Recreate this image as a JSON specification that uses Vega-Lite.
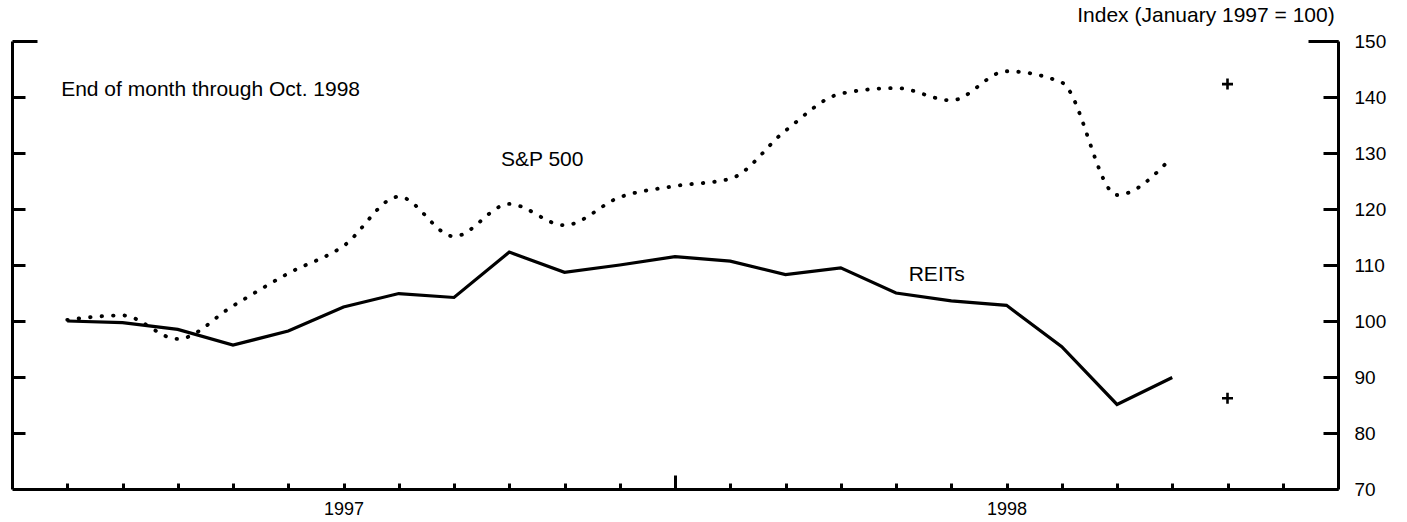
{
  "$schema": "https://vega.github.io/schema/vega-lite/v6.json",
  "width": 1326,
  "height": 448,
  "autosize": {"type": "none"},
  "padding": {"left": 12, "top": 41, "right": 69, "bottom": 33},
  "background": "white",
  "config": {
    "view": {"stroke": null},
    "font": "Liberation Sans",
    "axis": {"domainColor": "black", "domainWidth": 3, "tickColor": "black", "tickWidth": 3, "labelColor": "black", "labelFont": "Liberation Sans", "grid": false, "labelFlush": false, "labelOverlap": false}
  },
  "datasets": {
    "sp": [
      {"month": 1, "value": 100.2}, {"month": 2, "value": 101.0}, {"month": 3, "value": 96.8},
      {"month": 4, "value": 102.7}, {"month": 5, "value": 108.5}, {"month": 6, "value": 113.4},
      {"month": 7, "value": 122.2}, {"month": 8, "value": 115.1}, {"month": 9, "value": 120.9},
      {"month": 10, "value": 117.1}, {"month": 11, "value": 122.1}, {"month": 12, "value": 124.1},
      {"month": 13, "value": 125.4}, {"month": 14, "value": 134.0}, {"month": 15, "value": 140.6},
      {"month": 16, "value": 141.6}, {"month": 17, "value": 139.4}, {"month": 18, "value": 144.6},
      {"month": 19, "value": 142.6}, {"month": 20, "value": 122.5}, {"month": 21, "value": 129.3}
    ],
    "reits": [
      {"month": 1, "value": 100.0}, {"month": 2, "value": 99.7}, {"month": 3, "value": 98.5},
      {"month": 4, "value": 95.7}, {"month": 5, "value": 98.2}, {"month": 6, "value": 102.5},
      {"month": 7, "value": 104.9}, {"month": 8, "value": 104.2}, {"month": 9, "value": 112.3},
      {"month": 10, "value": 108.7}, {"month": 11, "value": 110.0}, {"month": 12, "value": 111.5},
      {"month": 13, "value": 110.7}, {"month": 14, "value": 108.3}, {"month": 15, "value": 109.5},
      {"month": 16, "value": 105.0}, {"month": 17, "value": 103.6}, {"month": 18, "value": 102.8},
      {"month": 19, "value": 95.4}, {"month": 20, "value": 85.1}, {"month": 21, "value": 89.9}
    ],
    "latest": [
      {"series": "S&P 500", "month": 22, "value": 142.3},
      {"series": "REITs", "month": 22, "value": 86.2}
    ],
    "notes": [
      {"label": "End of month through Oct. 1998", "month": 0.89, "value": 141.3},
      {"label": "S&P 500", "month": 8.85, "value": 128.7},
      {"label": "REITs", "month": 16.23, "value": 108.3}
    ],
    "unit": [
      {"label": "Index (January 1997 = 100)", "month": 23.94, "value": 154.5}
    ]
  },
  "layer": [
    {
      "data": {"name": "sp"},
      "mark": {"type": "line", "interpolate": "monotone", "color": "black", "strokeWidth": 3.8, "strokeDash": [0.5, 11], "strokeCap": "round"},
      "encoding": {
        "x": {"field": "month", "type": "quantitative", "scale": {"domain": [0, 24], "nice": false, "zero": false},
              "axis": {"orient": "bottom", "values": [1,2,3,4,5,6,7,8,9,10,11,12,13,14,15,16,17,18,19,20,21,22,23], "tickSize": -6,
                       "labelExpr": "datum.value == 6 ? '1997' : datum.value == 18 ? '1998' : ''", "labelPadding": 17, "labelFontSize": 18, "title": null}},
        "y": {"field": "value", "type": "quantitative", "scale": {"domain": [70, 150], "nice": false, "zero": false},
              "axis": {"orient": "right", "values": [70,80,90,100,110,120,130,140,150], "tickSize": -15, "labelPadding": 31, "labelFontSize": 19, "title": null}}
      }
    },
    {
      "data": {"name": "reits"},
      "mark": {"type": "line", "color": "black", "strokeWidth": 3.2, "strokeJoin": "miter"},
      "encoding": {
        "x": {"field": "month", "type": "quantitative", "scale": {"domain": [0, 24], "nice": false, "zero": false},
              "axis": {"orient": "bottom", "values": [12], "tickSize": -14, "labels": false, "domain": false, "title": null}},
        "y": {"field": "value", "type": "quantitative", "scale": {"domain": [70, 150], "nice": false, "zero": false},
              "axis": {"orient": "left", "values": [80,90,100,110,120,130,140], "tickSize": -13, "labels": false, "title": null}}
      }
    },
    {
      "data": {"name": "latest"},
      "mark": {"type": "point", "shape": "M-1,0L1,0M0,-1L0,1", "size": 121, "filled": false, "stroke": "black", "strokeWidth": 2.6, "opacity": 1},
      "encoding": {
        "x": {"field": "month", "type": "quantitative", "scale": {"domain": [0, 24], "nice": false, "zero": false}, "axis": null},
        "y": {"field": "value", "type": "quantitative", "scale": {"domain": [70, 150], "nice": false, "zero": false},
              "axis": {"orient": "right", "values": [150], "tickSize": -30, "labels": false, "domain": false, "title": null}}
      }
    },
    {
      "data": {"name": "notes"},
      "mark": {"type": "text", "align": "left", "baseline": "middle", "fontSize": 21, "font": "Liberation Sans", "color": "black"},
      "encoding": {
        "x": {"field": "month", "type": "quantitative", "scale": {"domain": [0, 24], "nice": false, "zero": false}, "axis": null},
        "y": {"field": "value", "type": "quantitative", "scale": {"domain": [70, 150], "nice": false, "zero": false},
              "axis": {"orient": "left", "values": [150], "tickSize": -25, "labels": false, "domain": false, "title": null}},
        "text": {"field": "label"}
      }
    },
    {
      "data": {"name": "unit"},
      "mark": {"type": "text", "align": "right", "baseline": "middle", "fontSize": 21, "font": "Liberation Sans", "color": "black"},
      "encoding": {
        "x": {"field": "month", "type": "quantitative", "scale": {"domain": [0, 24], "nice": false, "zero": false}, "axis": null},
        "y": {"field": "value", "type": "quantitative", "scale": {"domain": [70, 150], "nice": false, "zero": false}, "axis": null},
        "text": {"field": "label"}
      }
    }
  ],
  "resolve": {"axis": {"x": "independent", "y": "independent"}}
}
